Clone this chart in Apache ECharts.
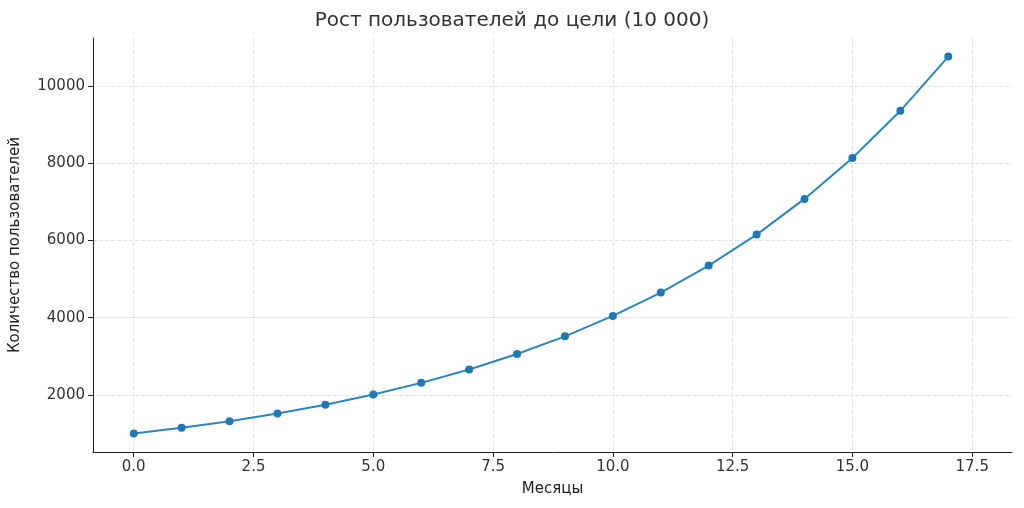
<!DOCTYPE html><html><head><meta charset="utf-8"><script src="https://cdn.jsdelivr.net/npm/echarts@6/dist/echarts.min.js"></script></head><body style="margin:0"><div id="c" style="width:1024px;height:508px"></div><script>
const months=[0,1,2,3,4,5,6,7,8,9,10,11,12,13,14,15,16,17];
const users=[1000,1150,1322,1521,1749,2011,2313,2660,3059,3518,4046,4652,5350,6153,7076,8137,9358,10761];
const xTicks=[0,2.5,5,7.5,10,12.5,15,17.5];
const yTicks=[2000,4000,6000,8000,10000];
const ch=echarts.init(document.getElementById('c'));
const f='DejaVu Sans';
const gl={show:true,lineStyle:{color:'#d9d9d9',type:[4,2],width:0.8}};
ch.setOption({animation:false,
title:{text:'Рост пользователей до цели (10 000)',left:'center',top:6,textStyle:{fontFamily:f,fontSize:20,fontWeight:'normal',color:'#333'}},
grid:{left:93,right:12,top:38,bottom:56},
xAxis:{type:'value',min:-0.85,max:18.33,name:'Месяцы',nameLocation:'middle',nameGap:30,nameTextStyle:{fontFamily:f,fontSize:15,color:'#222'},
 axisLine:{onZero:false,lineStyle:{color:'#222'}},axisTick:{show:true,customValues:xTicks,lineStyle:{color:'#222'}},
 axisLabel:{customValues:xTicks,fontFamily:f,fontSize:15,color:'#333',formatter:v=>v.toFixed(1)},splitLine:Object.assign({},gl,{customValues:xTicks})},
yAxis:{type:'value',min:523,max:11243,name:'Количество пользователей',nameLocation:'middle',nameGap:70,nameTextStyle:{fontFamily:f,fontSize:15,color:'#222'},
 axisLine:{show:true,onZero:false,lineStyle:{color:'#222'}},axisTick:{show:true,customValues:yTicks,lineStyle:{color:'#222'}},
 axisLabel:{customValues:yTicks,fontFamily:f,fontSize:15,color:'#333',formatter:v=>String(v)},splitLine:Object.assign({},gl,{customValues:yTicks})},
series:[{type:'line',data:months.map((m,i)=>[m,users[i]]),symbol:'circle',symbolSize:8,itemStyle:{color:'#1f77b4'},lineStyle:{color:'#2a86c0',width:2}}]});
</script></body></html>
